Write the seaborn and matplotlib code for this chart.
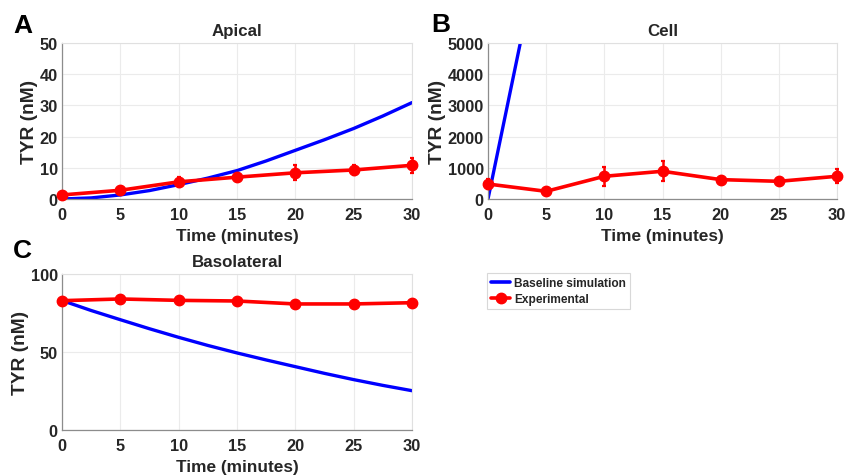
import matplotlib
matplotlib.use("Agg")
import matplotlib.pyplot as plt
from matplotlib.lines import Line2D
import seaborn as sns
import pandas as pd

# Time axis of the experiments (minutes)
exp_time = [0, 5, 10, 15, 20, 25, 30]

# Apical compartment
apical_exp = [1.3, 2.8, 5.5, 7.0, 8.4, 9.3, 10.8]
apical_err = [0.5, 0.5, 1.5, 1.0, 2.4, 1.5, 2.4]
sim_time = [0, 2.5, 5, 7.5, 10, 12.5, 15, 17.5, 20, 22.5, 25, 27.5, 30]
apical_sim = [0.0, 0.35, 1.3, 2.7, 4.6, 6.7, 9.1, 12.2, 15.6, 19.0, 22.6, 26.6, 30.9]

# Cell compartment
cell_exp = [480, 246, 728, 889, 621, 567, 728]
cell_err = [160, 80, 310, 320, 80, 80, 230]
cell_sim_time = [0, 2.5, 5]
cell_sim = [0, 4500, 9000]

# Basolateral compartment
baso_exp = [82.9, 84.0, 83.1, 82.7, 80.8, 80.8, 81.6]
baso_err = [0.6, 0.6, 0.6, 0.6, 0.6, 0.6, 0.6]
baso_sim = [83.0, 76.6, 70.7, 64.9, 59.4, 54.2, 49.4, 44.9, 40.6, 36.3, 32.3, 28.6, 25.2]

xticks = [0, 5, 10, 15, 20, 25, 30]

sns.set_theme(style="whitegrid")
plt.rcParams["font.family"] = ["Liberation Sans", "DejaVu Sans"]
plt.rcParams["font.weight"] = "bold"

BLUE = "#0000ff"
RED = "#ff0000"
TXT = "#262626"

fig = plt.figure(figsize=(8.46, 4.77), dpi=100)
W, H = 846, 477


def make_ax(x0, x1, ytop, ybot):
    return fig.add_axes([x0 / W, 1 - ybot / H, (x1 - x0) / W, (ybot - ytop) / H])


axA = make_ax(62, 412, 44, 200)
axB = make_ax(488, 837, 44, 200)
axC = make_ax(62, 412, 275, 431)


def draw(ax, st, sv, ev, ee, title, ylim, yticks, letter, letter_x, letter_gap):
    sns.lineplot(data=pd.DataFrame({"t": st, "v": sv}), x="t", y="v", ax=ax,
                 color=BLUE, linewidth=2.4, legend=False)
    ax.errorbar(exp_time, ev, yerr=ee, color=RED, linewidth=2.6, marker="o",
                markersize=7.5, elinewidth=1.8, capsize=1.6, capthick=1.6,
                zorder=3, clip_on=False)
    ax.set_xlim(0, 30)
    ax.set_ylim(*ylim)
    ax.set_xticks(xticks)
    ax.set_yticks(yticks)
    ax.set_title(title, fontsize=12.2, fontweight="bold", color=TXT, pad=6)
    ax.set_xlabel("Time (minutes)", fontsize=12.4, fontweight="bold", color=TXT, labelpad=4)
    ax.set_ylabel("TYR (nM)", fontsize=13.8, fontweight="bold", color=TXT, labelpad=1)
    ax.tick_params(axis="x", labelsize=11.8, colors=TXT, length=0, pad=6)
    ax.tick_params(axis="y", labelsize=11.8, colors=TXT, length=0, pad=3)
    for lab in ax.get_xticklabels() + ax.get_yticklabels():
        lab.set_fontweight("bold")
    ax.grid(True, color="#ebebeb", linewidth=0.8)
    for side in ("left", "bottom"):
        ax.spines[side].set_color("#8c8c8c")
        ax.spines[side].set_linewidth(0.9)
    for side in ("top", "right"):
        ax.spines[side].set_color("#e0e0e0")
        ax.spines[side].set_linewidth(0.8)
    pos = ax.get_position()
    fig.text(letter_x / W, pos.y1 + letter_gap / H, letter, fontsize=19, fontweight="bold",
             color="black", ha="left", va="baseline")


draw(axA, sim_time, apical_sim, apical_exp, apical_err, "Apical",
     (0, 50), [0, 10, 20, 30, 40, 50], "A", 13, 11)
draw(axB, cell_sim_time, cell_sim, cell_exp, cell_err, "Cell",
     (0, 5000), [0, 1000, 2000, 3000, 4000, 5000], "B", 431, 12)
draw(axC, sim_time, baso_sim, baso_exp, baso_err, "Basolateral",
     (0, 100), [0, 50, 100], "C", 13, 17)

handles = [
    Line2D([], [], color=BLUE, linewidth=2.6),
    Line2D([], [], color=RED, linewidth=2.6, marker="o", markersize=7.5),
]
labels = ["Baseline simulation", "Experimental"]
leg = fig.legend(handles, labels, loc="upper left",
                 bbox_to_anchor=(487 / W, 1 - 274 / H),
                 prop={"size": 8.6, "weight": "bold"}, frameon=True,
                 fancybox=False, edgecolor="#cfcfcf", handlelength=1.6,
                 handletextpad=0.3, borderpad=0.35, labelspacing=0.3,
                 borderaxespad=0)
leg.get_frame().set_linewidth(0.8)

fig.savefig("out.png", dpi=100)
